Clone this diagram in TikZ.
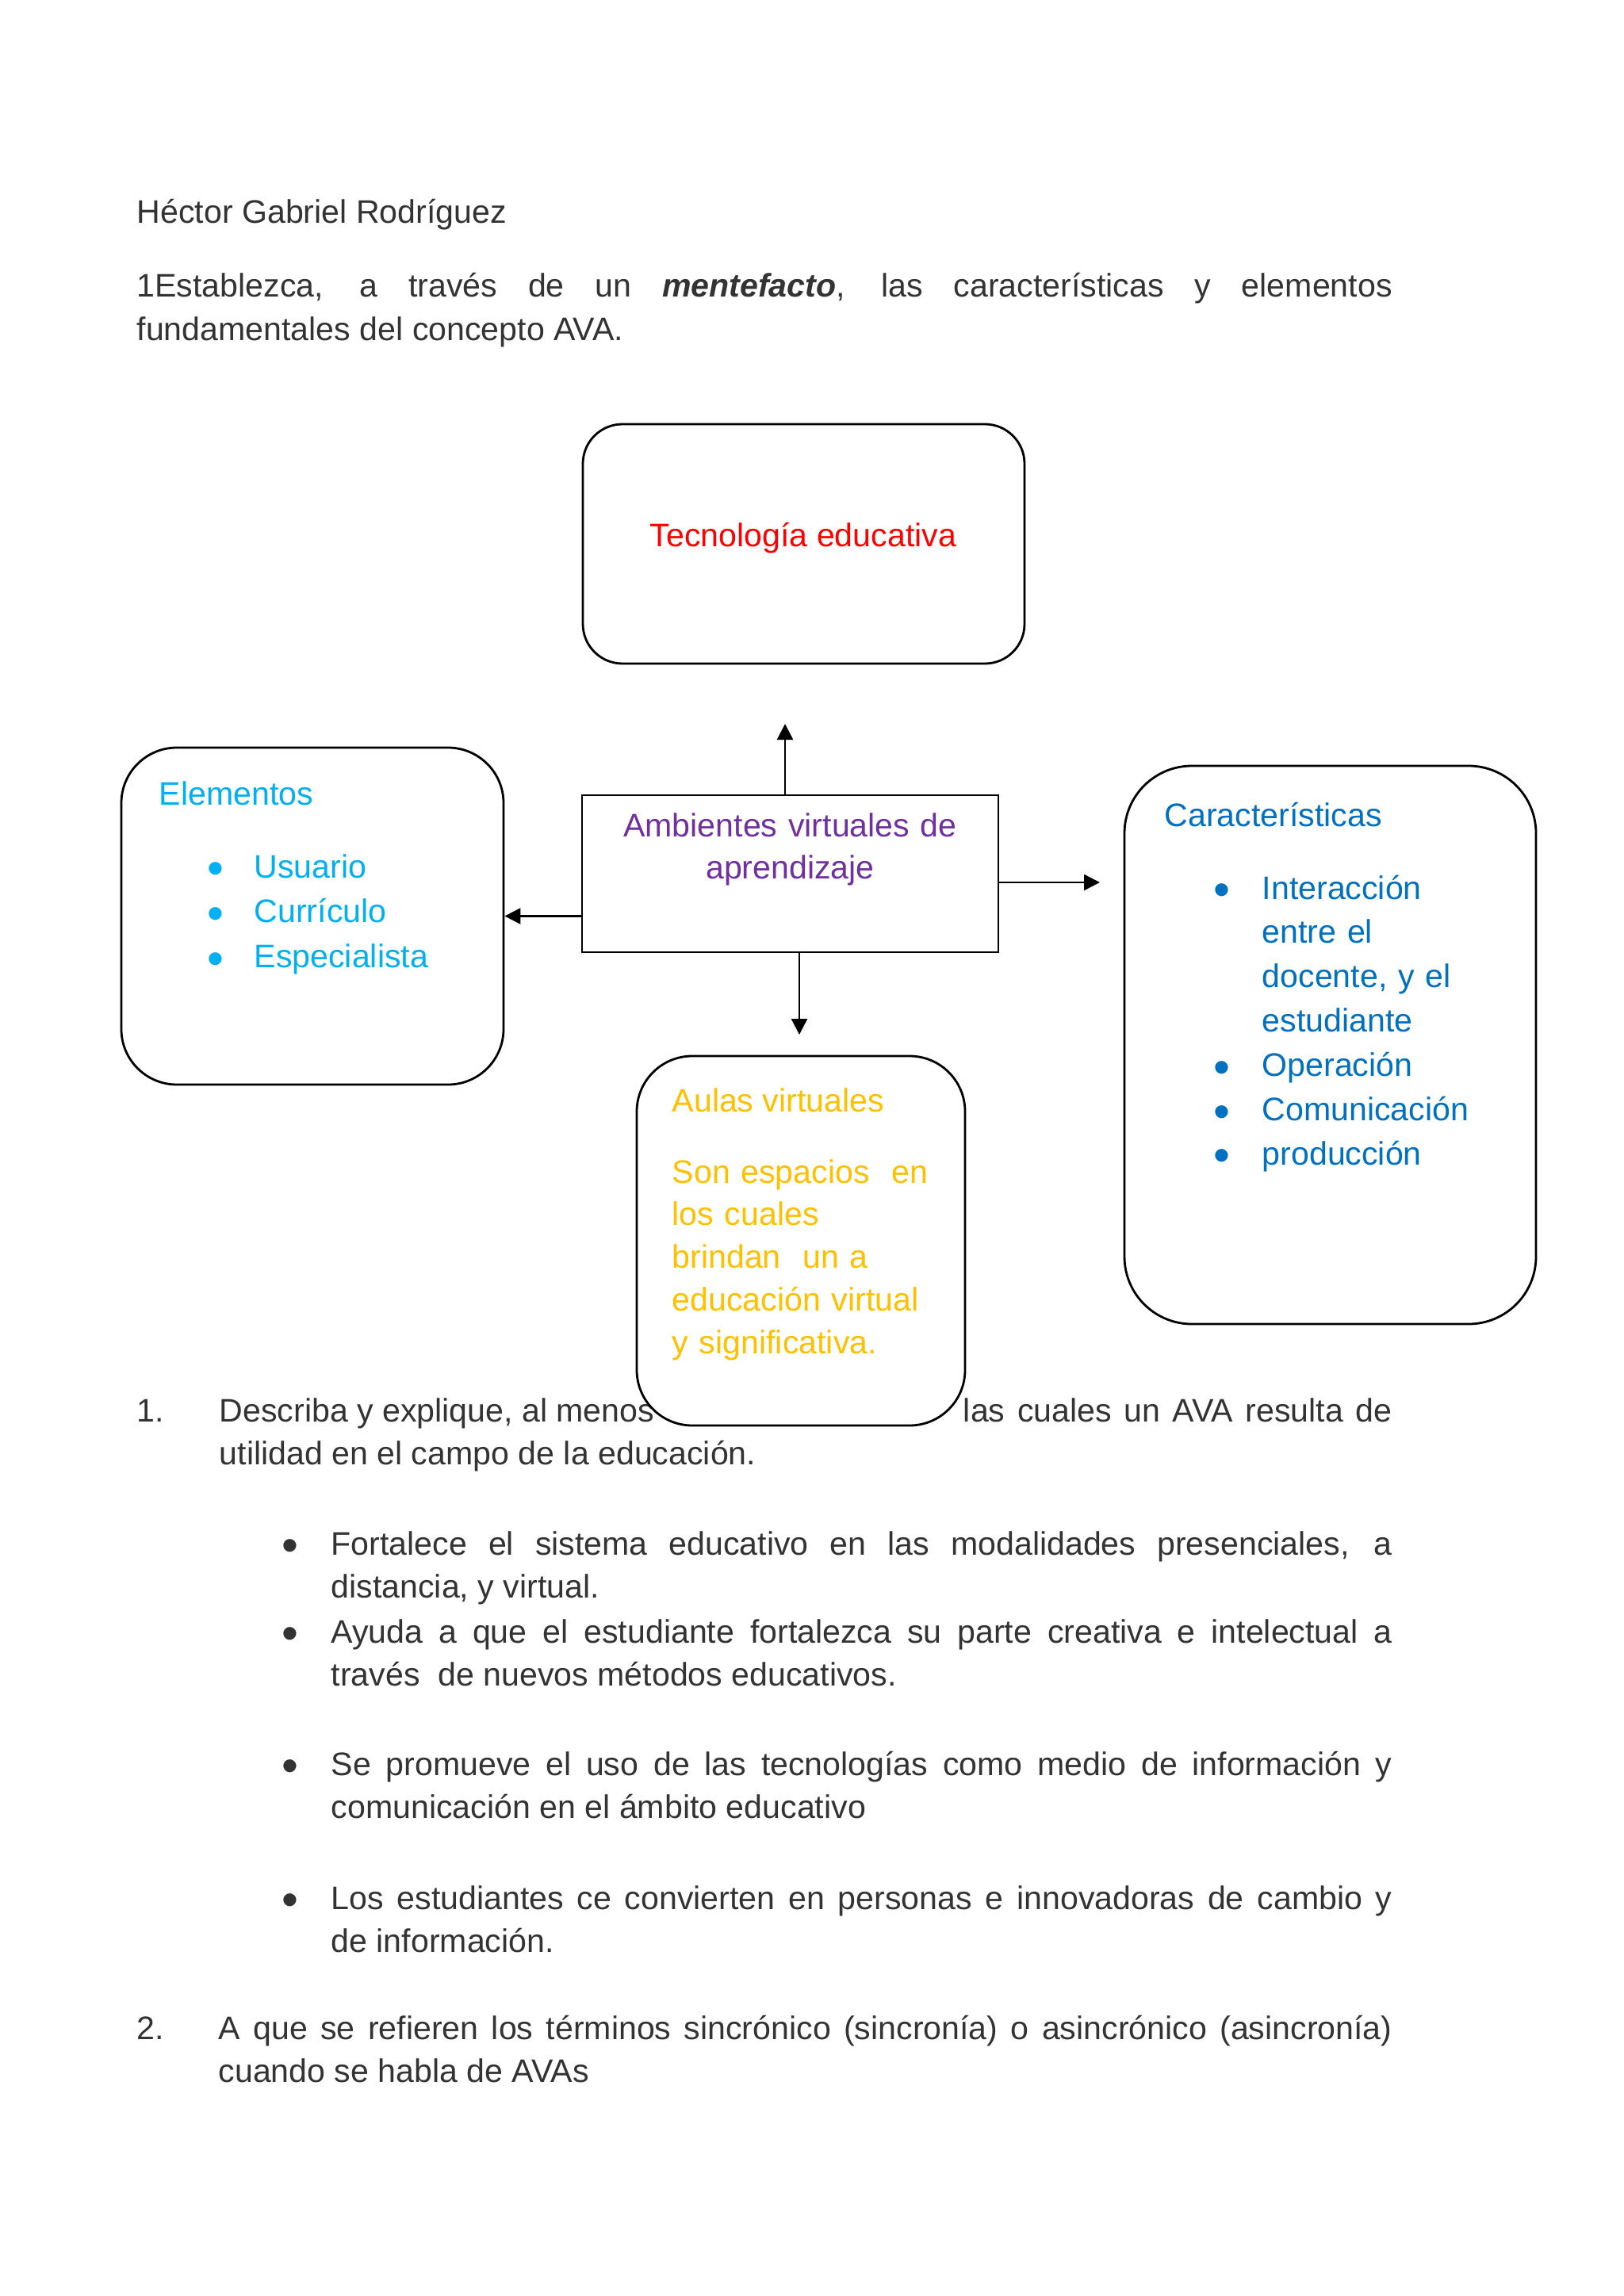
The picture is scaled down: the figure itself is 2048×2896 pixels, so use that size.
\documentclass[tikz,border=0pt]{standalone}
\usepackage{fontspec}
\setmainfont{Liberation Sans}
\usetikzlibrary{arrows.meta, positioning, calc}
\definecolor{cText}{RGB}{51,51,51}
\definecolor{cRed}{RGB}{255,0,0}
\definecolor{cPurple}{RGB}{112,48,160}
\definecolor{cCyan}{RGB}{0,176,240}
\definecolor{cBlue}{RGB}{0,112,192}
\definecolor{cGold}{RGB}{255,192,0}
\tikzset{
  basetext/.style={inner sep=0pt, anchor=base west, text=cText,
                   font=\fontsize{11.7}{15.6}\selectfont},
  parnode/.style={basetext, align=justify},
  mapbox/.style={rectangle, rounded corners=#1, draw=black, line width=0.8pt,
                 fill=white, inner sep=0pt},
  corebox/.style={rectangle, draw=black, line width=0.8pt, fill=white,
                  inner sep=0pt},
  arrow/.style={-{Triangle[length=2mm, width=2mm]}, line width=0.7pt,
                color=black}
}
\newcommand{\bigbul}{\raisebox{-0.21em}{\scalebox{1.45}{\textbullet}}}
\newcommand{\itembul}[1]{\makebox[#1][l]{\bigbul}}

\begin{document}
\begin{tikzpicture}[x=0.1mm, y=-0.1mm]
  \path[use as bounding box, fill=white] (0,0) rectangle (2048,2896);

  % heading
  \node[basetext] (author) at (172,282) {Héctor Gabriel Rodríguez};
  \node[parnode, text width=158.3mm] (task) at (172,375)
      {1Establezca, a través de un \textbf{\textit{mentefacto}}, las características y elementos\linebreak
       fundamentales del concepto AVA.};

  % question 1 (partly covered by the box below)
  \node[basetext] (q1num) at (172,1793) {1.};
  \node[parnode, text width=147.9mm] (q1) at (276,1793)
      {Describa y explique, al menos\hfill
       {\spaceskip=1.37\fontdimen2\font las cuales un AVA resulta de}\linebreak
       utilidad en el campo de la educación.};

  % mentefacto
  \node[mapbox=5mm, minimum width=55.7mm, minimum height=30.2mm] (tec) at (1013.5,686) {};
  \node[basetext, anchor=base, text=cRed] (tecTxt) at (1013,689) {Tecnología educativa};

  \node[corebox, minimum width=52.5mm, minimum height=19.8mm] (ava) at (996.5,1102) {};
  \node[basetext, anchor=base, text=cPurple, text width=50mm, align=center,
        font=\fontsize{11.7}{15.1}\selectfont] (avaTxt) at (996.5,1055)
      {Ambientes virtuales de\\ aprendizaje};

  \node[mapbox=7mm, minimum width=48.2mm, minimum height=42.5mm] (elem) at (394,1155.5) {};
  \node[basetext, text=cCyan] (elemTxt) at (200,1015) {Elementos};
  \node[basetext, text=cCyan, text width=40mm, align=left,
        font=\fontsize{11.7}{16.2}\selectfont] (elemList) at (261,1107)
      {\itembul{5.9mm}Usuario\\ \itembul{5.9mm}Currículo\\ \itembul{5.9mm}Especialista};

  \node[mapbox=8.5mm, minimum width=51.9mm, minimum height=70.4mm] (car) at (1677.5,1318) {};
  \node[basetext, text=cBlue] (carTxt) at (1468,1042) {Características};
  \node[basetext, text=cBlue, text width=45mm, align=left,
        font=\fontsize{11.7}{15.9}\selectfont] (carList) at (1530,1134)
      {\itembul{6.1mm}Interacción\\ \hspace*{6.1mm}entre el\\ \hspace*{6.1mm}docente, y el\\
       \hspace*{6.1mm}estudiante\\ \itembul{6.1mm}Operación\\ \itembul{6.1mm}Comunicación\\
       \itembul{6.1mm}producción};

  \node[mapbox=7mm, minimum width=41.4mm, minimum height=46.6mm] (aul) at (1010,1565) {};
  \node[basetext, text=cGold] (aulTxt) at (847,1402) {Aulas virtuales};
  \node[basetext, text=cGold, text width=35mm, align=left,
        font=\fontsize{11.7}{15.3}\selectfont] (aulBody) at (847,1492)
      {Son espacios\ \ en\\ los cuales\\ brindan\ \ un a\\ educación virtual\\ y significativa.};

  \coordinate (tecEnd) at (990,913);
  \coordinate (carEnd) at (1387,1113);
  \coordinate (aulEnd) at (1008,1305);
  \foreach \from/\to in {ava.north -| tecEnd/tecEnd, ava.west |- elem.east/elem.east,
                         ava.east |- carEnd/carEnd, ava.south -| aulEnd/aulEnd}
    \draw[arrow] (\from) -- (\to);

  % list of reasons
  \node[basetext] (b1) at (355,1961) {\bigbul};
  \node[parnode, text width=133.8mm] (r1) at (417,1961)
      {Fortalece el sistema educativo en las modalidades presenciales, a\linebreak
       distancia, y virtual.};
  \node[basetext] (b2) at (355,2072) {\bigbul};
  \node[parnode, text width=133.8mm] (r2) at (417,2072)
      {Ayuda a que el estudiante fortalezca su parte creativa e intelectual a\linebreak
       través\ \ de nuevos métodos educativos.};
  \node[basetext] (b3) at (355,2239) {\bigbul};
  \node[parnode, text width=133.8mm] (r3) at (417,2239)
      {Se promueve el uso de las tecnologías como medio de información y\linebreak
       comunicación en el ámbito educativo};
  \node[basetext] (b4) at (355,2408) {\bigbul};
  \node[parnode, text width=133.8mm] (r4) at (417,2408)
      {Los estudiantes ce convierten en personas e innovadoras de cambio y\linebreak
       de información.};

  % question 2
  \node[basetext] (q2num) at (172,2572) {2.};
  \node[parnode, text width=148mm] (q2) at (275,2572)
      {A que se refieren los términos sincrónico (sincronía) o asincrónico (asincronía)\linebreak
       cuando se habla de AVAs};
\end{tikzpicture}
\end{document}
